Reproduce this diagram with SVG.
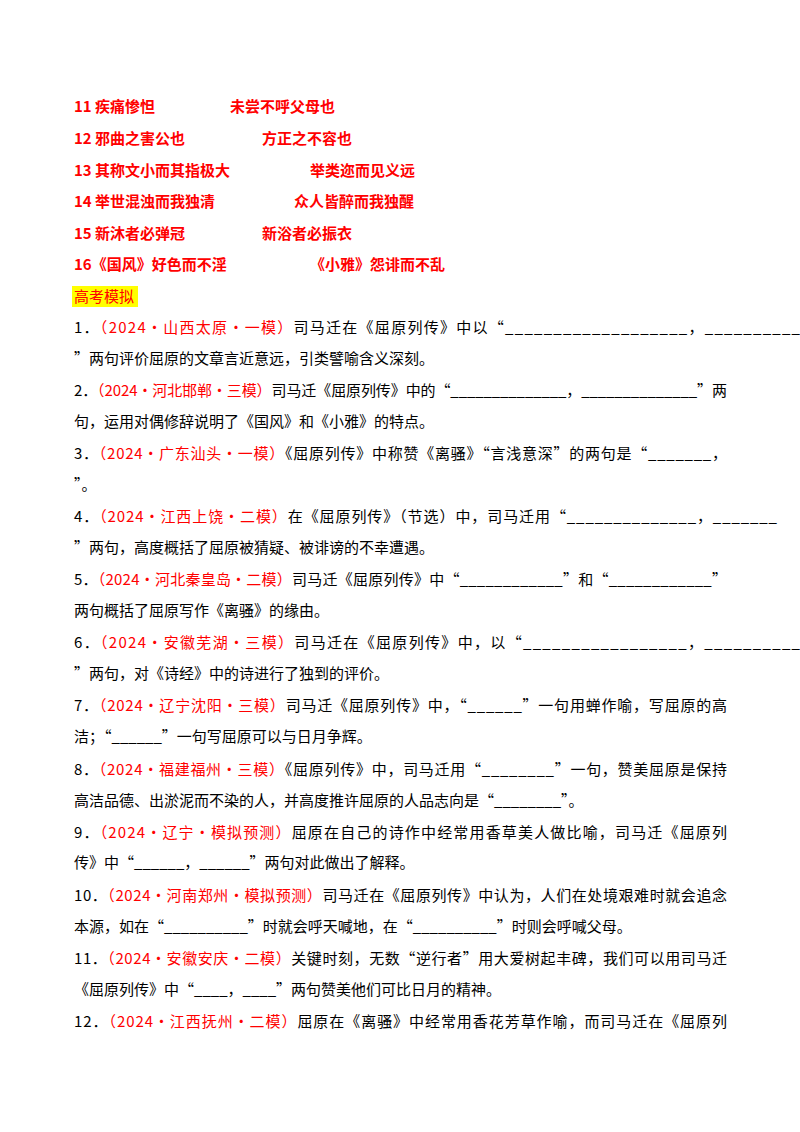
<svg xmlns="http://www.w3.org/2000/svg" width="800" height="1132" viewBox="0 0 800 1132">
<style>
text{font-family:"Noto Sans CJK SC","Liberation Sans",sans-serif;font-size:15px;fill:#000}
.r{fill:#ff0000}
.b{font-weight:bold}
</style>
<rect width="800" height="1132" fill="#fff"/>
<g id="answers">
<text class="r b" x="74" y="112">11 疾痛惨怛</text><text class="r b" x="230" y="112">未尝不呼父母也</text>
<text class="r b" x="74" y="144">12 邪曲之害公也</text><text class="r b" x="262" y="144">方正之不容也</text>
<text class="r b" x="74" y="176">13 其称文小而其指极大</text><text class="r b" x="310" y="176">举类迩而见义远</text>
<text class="r b" x="74" y="207">14 举世混浊而我独清</text><text class="r b" x="294" y="207">众人皆醉而我独醒</text>
<text class="r b" x="74" y="239">15 新沐者必弹冠</text><text class="r b" x="262" y="239">新浴者必振衣</text>
<text class="r b" x="74" y="270">16《国风》好色而不淫</text><text class="r b" x="310" y="270">《小雅》怨诽而不乱</text>
</g>
<g id="heading"><rect x="72" y="286" width="66" height="21" fill="#ffff00"/><text class="r" x="74" y="302">高考模拟</text></g>
<g id="items">
<text x="74" y="333" textLength="726" lengthAdjust="spacing">1．<tspan class="r">（2024·山西太原·一模）</tspan>司马迁在《屈原列传》中以“___________________，__________</text>
<text x="74" y="364">”两句评价屈原的文章言近意远，引类譬喻含义深刻。</text>
<text x="74" y="396" textLength="653" lengthAdjust="spacing">2．<tspan class="r">（2024·河北邯郸·三模）</tspan>司马迁《屈原列传》中的“______________，______________”两</text>
<text x="74" y="427">句，运用对偶修辞说明了《国风》和《小雅》的特点。</text>
<text x="74" y="459" textLength="653" lengthAdjust="spacing">3．<tspan class="r">（2024·广东汕头·一模）</tspan>《屈原列传》中称赞《离骚》“言浅意深”的两句是“_______，</text>
<text x="74" y="490">”。</text>
<text x="74" y="522" textLength="703" lengthAdjust="spacing">4．<tspan class="r">（2024·江西上饶·二模）</tspan>在《屈原列传》（节选）中，司马迁用“______________，_______</text>
<text x="74" y="553">”两句，高度概括了屈原被猜疑、被诽谤的不幸遭遇。</text>
<text x="74" y="585" textLength="653" lengthAdjust="spacing">5．<tspan class="r">（2024·河北秦皇岛·二模）</tspan>司马迁《屈原列传》中“____________”和“____________”</text>
<text x="74" y="616">两句概括了屈原写作《离骚》的缘由。</text>
<text x="74" y="648" textLength="726" lengthAdjust="spacing">6．<tspan class="r">（2024·安徽芜湖·三模）</tspan>司马迁在《屈原列传》中，以“_________________，__________</text>
<text x="74" y="679">”两句，对《诗经》中的诗进行了独到的评价。</text>
<text x="74" y="711" textLength="653" lengthAdjust="spacing">7．<tspan class="r">（2024·辽宁沈阳·三模）</tspan>司马迁《屈原列传》中，“______”一句用蝉作喻，写屈原的高</text>
<text x="74" y="742">洁；“______”一句写屈原可以与日月争辉。</text>
<text x="74" y="775" textLength="653" lengthAdjust="spacing">8．<tspan class="r">（2024·福建福州·三模）</tspan>《屈原列传》中，司马迁用“________”一句，赞美屈原是保持</text>
<text x="74" y="806">高洁品德、出淤泥而不染的人，并高度推许屈原的人品志向是“________”。</text>
<text x="74" y="838" textLength="653" lengthAdjust="spacing">9．<tspan class="r">（2024·辽宁·模拟预测）</tspan>屈原在自己的诗作中经常用香草美人做比喻，司马迁《屈原列</text>
<text x="74" y="868">传》中“______，______”两句对此做出了解释。</text>
<text x="74" y="901" textLength="653" lengthAdjust="spacing">10．<tspan class="r">（2024·河南郑州·模拟预测）</tspan>司马迁在《屈原列传》中认为，人们在处境艰难时就会追念</text>
<text x="74" y="932">本源，如在“__________”时就会呼天喊地，在“__________”时则会呼喊父母。</text>
<text x="74" y="964" textLength="653" lengthAdjust="spacing">11．<tspan class="r">（2024·安徽安庆·二模）</tspan>关键时刻，无数“逆行者”用大爱树起丰碑，我们可以用司马迁</text>
<text x="74" y="995">《屈原列传》中“____，____”两句赞美他们可比日月的精神。</text>
<text x="74" y="1027" textLength="653" lengthAdjust="spacing">12．<tspan class="r">（2024·江西抚州·二模）</tspan>屈原在《离骚》中经常用香花芳草作喻，而司马迁在《屈原列</text>
</g>
<g id="connectors"/>
</svg>
